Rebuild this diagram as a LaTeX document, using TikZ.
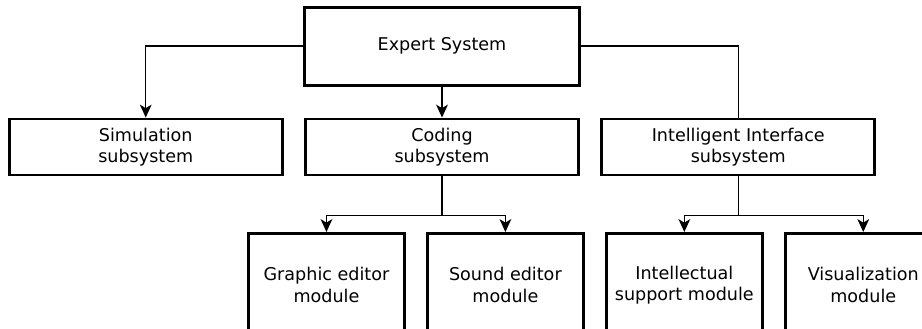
\documentclass[tikz,border=0pt]{standalone}
\usepackage{fontspec}
\setmainfont{DejaVu Sans}
\usetikzlibrary{positioning,arrows.meta}
\tikzstyle{top} = [draw, rectangle, line width=2.5pt, minimum width=8.25cm, minimum height=2.34cm, align=center]
\tikzstyle{subsys} = [draw, rectangle, line width=2.5pt, minimum width=8.2cm, minimum height=1.68cm, align=center]
\tikzstyle{module} = [draw, rectangle, line width=2.5pt, minimum width=4.68cm, minimum height=3.1cm, align=center]
\tikzstyle{link} = [line width=1.1pt]
\tikzstyle{arr} = [link, -{Stealth[length=11pt, width=10pt, inset=3pt]}]

\begin{document}
\begin{tikzpicture}[font=\fontsize{15}{18.5}\selectfont, node distance=0.6cm]
	\clip (0,0) rectangle (27.66,-9.84);
	% second row, the three subsystems
	\node [subsys] (coding) at (13.26,-4.41) {Coding\\subsystem};
	\node [subsys,left=of coding] (sim) {Simulation\\subsystem};
	\node [subsys,right=of coding] (intel) {Intelligent Interface\\subsystem};
	\node [top,above=0.93cm of coding] (expert) {Expert System};

	% third row, the modules
	\node [module,anchor=north west] (graphic) at (7.41,-6.96) {Graphic editor\\module};
	\node [module,right=of graphic] (sound) {Sound editor\\module};
	\node [module,right=of sound] (intellect) {Intellectual\\support module};
	\node [module,right=of intellect] (visual) {Visualization\\module};

	% from the expert system
	\draw [arr] (expert.west) -| (sim.north);
	\draw [arr] (expert.south) -- (coding.north);
	\draw [link] (expert.east) -| (intel.north);

	% splits to the modules
	\coordinate [below=1.17cm of coding.south] (cjoin);
	\coordinate [below=1.17cm of intel.south] (ijoin);
	\draw [link] (coding.south) -- (cjoin);
	\draw [arr] (cjoin) -| (graphic.north);
	\draw [arr] (cjoin) -| (sound.north);
	\draw [link] (intel.south) -- (ijoin);
	\draw [arr] (ijoin) -| (intellect.north);
	\draw [arr] (ijoin) -| (visual.north);
\end{tikzpicture}
\end{document}
